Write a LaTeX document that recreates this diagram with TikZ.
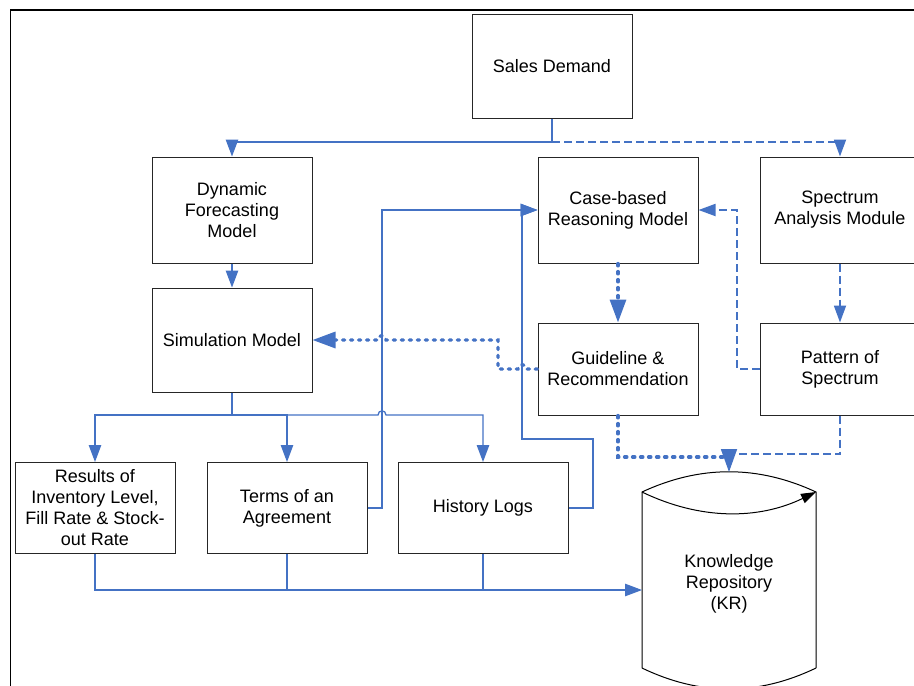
\documentclass[tikz,border=0pt]{standalone}
\usepackage{fontspec}
\setmainfont{Liberation Sans}
\usetikzlibrary{arrows.meta,calc}
\definecolor{lnblue}{HTML}{4472C4}

\begin{document}
\begin{tikzpicture}[x=1pt,y=-1pt,
  box/.style={draw=black!85,line width=1pt,fill=white,minimum width=160pt,
    inner sep=0pt,align=center,font=\fontsize{18}{21}\selectfont},
  line/.style={draw=lnblue,line width=1.1pt},
  flow/.style={line,-{Triangle[length=17pt,width=12.5pt]}},
  dashline/.style={draw=lnblue,line width=1.8pt,dash pattern=on 8pt off 4pt},
  flowdash/.style={dashline,-{Triangle[length=17pt,width=12pt]}},
  dotline/.style={draw=lnblue,line width=3.2pt,line cap=round,dash pattern=on 2.4pt off 5.6pt},
  flowdot/.style={dotline,-{Triangle[length=23pt,width=16pt]}},
]
\useasboundingbox (0,0) rectangle (914,686);

% outer frame
\draw[line width=1.8pt] (10.5,700) -- (10.5,10) -- (930,10);

% boxes
\node[box,minimum height=104pt] (sales) at (552,66) {Sales Demand};
\node[box,minimum height=106pt] (dyn) at (232,210) {Dynamic\\Forecasting\\Model};
\node[box,minimum height=106pt] (cbr) at (618,210) {Case-based\\Reasoning Model};
\node[box,minimum height=106pt] (sam) at (840,210) {Spectrum\\Analysis Module};
\node[box,minimum height=104pt] (sim) at (232,340) {Simulation Model};
\node[box,minimum height=92pt] (gr) at (618,369) {Guideline \&\\Recommendation};
\node[box,minimum height=92pt] (pos) at (840,369) {Pattern of\\Spectrum};
\node[box,minimum height=91pt] (res) at (95,508) {Results of\\Inventory Level,\\Fill Rate \& Stock-\\out Rate};
\node[box,minimum height=91pt] (toa) at (287,508) {Terms of an\\Agreement};
\node[box,minimum width=170pt,minimum height=91pt] (hl) at (483,508) {History Logs};

% knowledge repository cylinder
\coordinate (krtop) at (729,472);
\coordinate (krleft) at (642,590);
\fill[white] (642,668) -- (642,492) .. controls (700,465) and (758,465) .. (816,492)
  -- (816,668) .. controls (758,696) and (700,696) .. (642,668) -- cycle;
\draw[line width=1pt] (642,668) -- (642,492) .. controls (700,465) and (758,465) .. (816,492) -- (816,668);
\draw[line width=1pt,-{Triangle[length=15pt,width=10pt]}] (642,492) .. controls (700,520) and (758,520) .. (816,492);
\draw[line width=1pt] (642,668) .. controls (700,696) and (758,696) .. (816,668);
\node[align=center,font=\fontsize{18}{21}\selectfont] (kr) at (729,584) {Knowledge\\Repository\\(KR)};

% sales demand split
\coordinate (sd) at (552,142);
\draw[flow] (sales.south) -- (sd) -| (dyn.north);
\draw[flowdash] (sd) -| (sam.north);

\draw[flow] (dyn.south) -- (sim.north);

% simulation outputs
\coordinate (sb) at (232,415);
\coordinate (j1) at (382,415);
\draw[line] (sim.south) -- (sb);
\draw[flow] (sb) -| (res.north);
\draw[flow] (sb) -| (toa.north);
\draw[flow,line width=1.3pt] (sb) -- ([xshift=-4pt]j1) .. controls ([xshift=-4pt,yshift=5.5pt]j1) and ([xshift=4pt,yshift=5.5pt]j1) .. ([xshift=4pt]j1) -| (hl.north);

% feedback into case-based reasoning
\coordinate (tc) at (382,210);
\draw[flow] (toa.east) -| (tc) -- (cbr.west);
\coordinate (h1) at (593,439);
\coordinate (h2) at (522,439);
\coordinate (h3) at (522,210);
\draw[flow] (hl.east) -| (h1) -- (h2) -- (h3) -- (cbr.west);

\coordinate (p2) at (737,210);
\draw[flowdash] (pos.west) -| (p2) -- (cbr.east);

\draw[flowdot] (cbr.south) -- (gr.north);
\draw[flowdash] (sam.south) -- (pos.north);

% guideline back to simulation
\coordinate (j2) at (522,369);
\coordinate (d1) at (498,369);
\coordinate (d2) at (498,340);
\coordinate (j3) at (382,340);
\draw[flowdot] (gr.west) -- ([xshift=4pt]j2)
  .. controls ([xshift=4pt,yshift=6pt]j2) and ([xshift=-4pt,yshift=6pt]j2) .. ([xshift=-4pt]j2)
  -- (d1) -- (d2) -- ([xshift=4pt]j3)
  .. controls ([xshift=4pt,yshift=6pt]j3) and ([xshift=-4pt,yshift=6pt]j3) .. ([xshift=-4pt]j3)
  -- (sim.east);

% into the repository
\coordinate (k1) at (729,454);
\coordinate (k2) at (729,457);
\draw[dotline] (gr.south) |- (k2);
\draw[dashline,-{Triangle[length=23pt,width=16pt]}] (pos.south) |- (k1) -- (krtop);

\draw[flow] (res.south) |- (krleft);
\draw[line] (toa.south) -- (toa.south |- krleft);
\draw[line] (hl.south) -- (hl.south |- krleft);
\end{tikzpicture}
\end{document}
